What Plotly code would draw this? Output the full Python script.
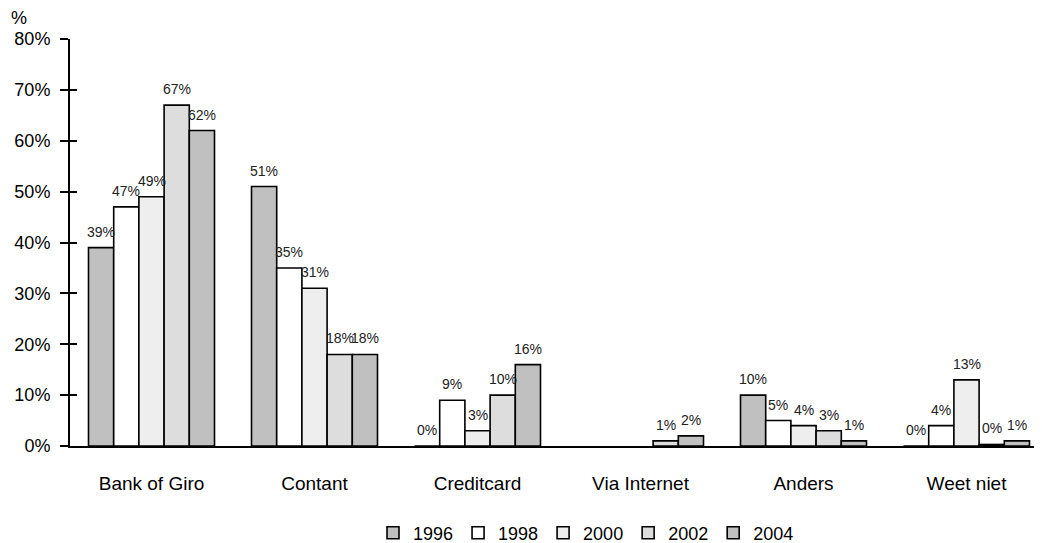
import plotly.graph_objects as go

categories = ["Bank of Giro", "Contant", "Creditcard", "Via Internet", "Anders", "Weet niet"]
years = ["1996", "1998", "2000", "2002", "2004"]
v1996 = [39, 51, 0, None, 10, 0]
v1998 = [47, 35, 9, None, 5, 4]
v2000 = [49, 31, 3, None, 4, 13]
v2002 = [67, 18, 10, 1, 3, 0.3]
v2004 = [62, 18, 16, 2, 1, 1]
series = [v1996, v1998, v2000, v2002, v2004]
colors = ["#c0c0c0", "#ffffff", "#eeeeee", "#dddddd", "#c0c0c0"]
ytickvals = [0, 10, 20, 30, 40, 50, 60, 70, 80]
yticktext = ["0%", "10%", "20%", "30%", "40%", "50%", "60%", "70%", "80%"]

FONT = "Liberation Sans, Arial, sans-serif"
bargap = 0.227
n = len(series)
w = (1 - bargap) / n

# page body has an 8px default margin; figure sized to fit the window
W, H = 1034, 535
L, T, B = 62, 31, 97
plot_h = H - T - B

fig = go.Figure()
for i, (yr, vals, col) in enumerate(zip(years, series, colors)):
    fig.add_trace(go.Bar(
        x=categories, y=vals, name=yr,
        marker=dict(color=col, line=dict(color="black", width=1.6)),
        hoverinfo="skip",
    ))
    for ci, v in enumerate(vals):
        if v is None:
            continue
        fig.add_annotation(
            x=ci + (i - (n - 1) / 2) * w, y=v, xref="x", yref="y",
            text=f"{round(v)}%", showarrow=False, yanchor="bottom",
            yshift=6, font=dict(family=FONT, size=14, color="#222"),
        )

# invisible trace to anchor the inside-tick overlay axis
fig.add_trace(go.Scatter(x=[categories[0]], y=[0], yaxis="y2", mode="markers",
                         marker=dict(opacity=0), showlegend=False, hoverinfo="skip"))

fig.add_annotation(text="%", xref="paper", yref="paper", x=(11 - L) / 972, y=1 + (T - 10) / plot_h,
                   xanchor="center", yanchor="middle", showarrow=False,
                   font=dict(family=FONT, size=18, color="black"))

fig.update_layout(
    width=W, height=H,
    margin=dict(l=L, r=0, t=T, b=B),
    paper_bgcolor="white", plot_bgcolor="white",
    barmode="group", bargap=bargap, bargroupgap=0,
    font=dict(family=FONT, color="black"),
    xaxis=dict(
        type="category", range=[-0.5, -0.5 + 972 / 163],
        showline=True, linecolor="black", linewidth=2,
        ticks="outside", ticklen=19, tickcolor="rgba(0,0,0,0)",
        tickfont=dict(family=FONT, size=19, color="black"),
        showgrid=False, zeroline=False,
    ),
    yaxis=dict(
        range=[0, 80], tickvals=ytickvals, ticktext=yticktext,
        showline=True, linecolor="black", linewidth=2,
        ticks="outside", ticklen=8, tickwidth=2, tickcolor="black",
        ticklabelstandoff=6,
        tickfont=dict(family=FONT, size=18, color="black"),
        showgrid=False, zeroline=False,
    ),
    yaxis2=dict(
        overlaying="y", matches="y", side="left", range=[0, 80],
        tickvals=ytickvals, showticklabels=False,
        ticks="inside", ticklen=7, tickwidth=2, tickcolor="black",
        showline=False, showgrid=False, zeroline=False,
    ),
    legend=dict(
        orientation="h", xref="container", yref="container",
        x=578 / W, y=1 - 525 / H, xanchor="center", yanchor="middle",
        font=dict(family=FONT, size=18, color="black"),
        itemwidth=30, traceorder="normal",
    ),
    showlegend=True,
)

fig.write_html("out.html")
